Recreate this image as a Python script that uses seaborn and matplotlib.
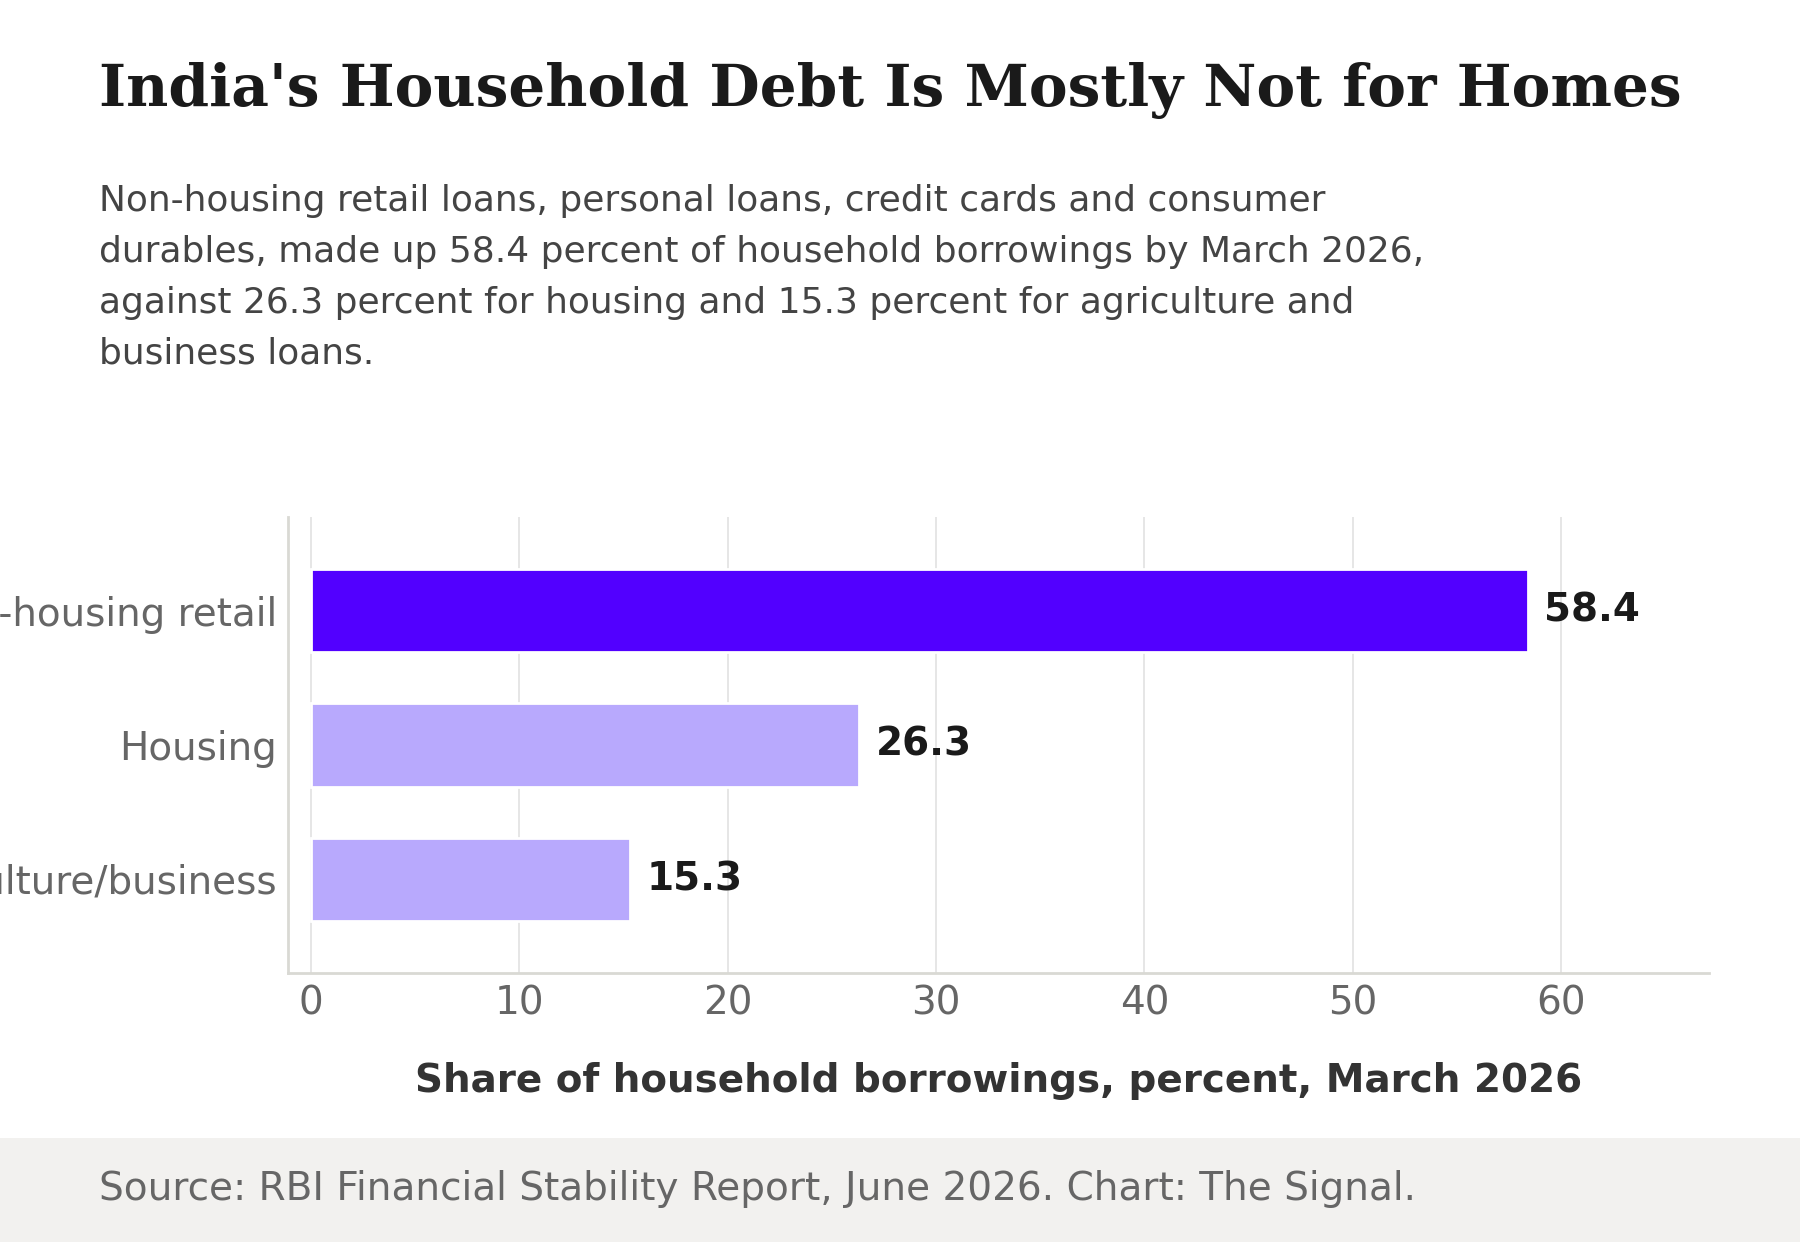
import matplotlib
matplotlib.use("Agg")
import matplotlib.pyplot as plt
import seaborn as sns
import pandas as pd
from matplotlib.patches import Rectangle

# data
categories = ["Non-housing retail", "Housing", "Agriculture/business"]
shares = [58.4, 26.3, 15.3]
bar_colors = ["#5200FF", "#B8A9FD", "#B8A9FD"]
x_ticks = [0, 10, 20, 30, 40, 50, 60]

title = "India's Household Debt Is Mostly Not for Homes"
subtitle = ("Non-housing retail loans, personal loans, credit cards and consumer\n"
            "durables, made up 58.4 percent of household borrowings by March 2026,\n"
            "against 26.3 percent for housing and 15.3 percent for agriculture and\n"
            "business loans.")
xlabel = "Share of household borrowings, percent, March 2026"
source = "Source: RBI Financial Stability Report, June 2026. Chart: The Signal."

df = pd.DataFrame({"category": categories, "share": shares})

sns.set_style("white")
plt.rcParams["font.family"] = ["DejaVu Sans"]

fig = plt.figure(figsize=(9, 6.21), dpi=200)
ax = fig.add_axes([288 / 1800, 1 - 973 / 1242, (1709 - 288) / 1800, (973 - 517) / 1242])

sns.barplot(data=df, x="share", y="category", hue="category",
            palette=bar_colors, legend=False, width=0.62, orient="h",
            saturation=1, ax=ax)

for cont in ax.containers:
    ax.bar_label(cont, fmt="%.1f", padding=6, fontsize=14, fontweight="bold",
                 color="#1a1a1a")

ax.set_xlim(-1.1, 67.1)
ax.set_ylim(2.7, -0.7)
ax.set_xticks(x_ticks)
ax.set_ylabel("")
ax.set_xlabel(xlabel, fontsize=14, fontweight="bold", color="#333333", labelpad=14.5)
ax.tick_params(axis="both", length=0, labelsize=14, labelcolor="#666666")
ax.tick_params(axis="y", pad=4)
ax.tick_params(axis="x", pad=4)
ax.grid(axis="x", color="#e6e6e6", linewidth=0.7)
ax.set_axisbelow(True)
for side in ["top", "right"]:
    ax.spines[side].set_visible(False)
for side in ["left", "bottom"]:
    ax.spines[side].set_color("#d9d9d4")
    ax.spines[side].set_linewidth(1.0)

# header
fig.text(99 / 1800, 1 - 106 / 1242, title, fontsize=20.95, fontweight="bold",
         family="DejaVu Serif", color="#1a1a1a", va="baseline", ha="left")
fig.text(99 / 1800, 1 - 364 / 1242, subtitle, fontsize=12.95, color="#444444",
         va="baseline", ha="left", linespacing=1.63)

# footer band
fig.patches.append(Rectangle((0, 0), 1, 1 - 1138 / 1242, transform=fig.transFigure,
                             facecolor="#f2f1ef", edgecolor="none", zorder=0))
fig.text(99 / 1800, 1 - 1200 / 1242, source, fontsize=14.05, color="#666666",
         va="baseline", ha="left")

fig.savefig("out.png", dpi=200)
